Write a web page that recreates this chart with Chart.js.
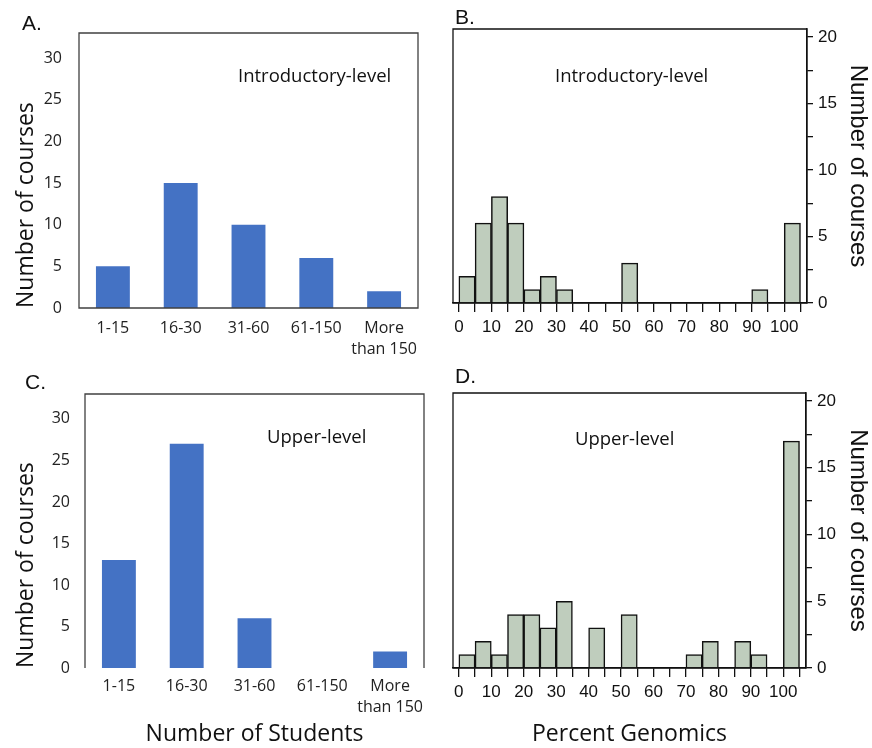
<!DOCTYPE html>
<html>
<head>
<meta charset="utf-8">
<script src="https://cdn.jsdelivr.net/npm/chart.js@4.4.0/dist/chart.umd.min.js"></script>
<style>
	body { margin: 0; width: 872px; height: 748px; background: #fff; position: relative; overflow: hidden; }
	canvas { position: absolute; }
	.tag { position: absolute; font: 21px "Liberation Sans", Arial, sans-serif; line-height: 21px; color: #111; }
	.note { position: absolute; font: 18.5px "Open Sans", sans-serif; line-height: 18.5px; color: #111; white-space: nowrap; }
</style>
</head>
<body>
<canvas id="chart-a" width="436" height="360" style="left:0;top:0;width:436px;height:360px"></canvas>
<canvas id="chart-b" width="432" height="360" style="left:440px;top:0;width:432px;height:360px"></canvas>
<canvas id="chart-c" width="436" height="388" style="left:0;top:360px;width:436px;height:388px"></canvas>
<canvas id="chart-d" width="432" height="388" style="left:440px;top:360px;width:432px;height:388px"></canvas>

<div class="tag" style="left:22px;top:12px">A.</div>
<div class="tag" style="left:455px;top:6px">B.</div>
<div class="tag" style="left:25px;top:371px">C.</div>
<div class="tag" style="left:455px;top:365px">D.</div>

<div class="note" style="left:238px;top:66px">Introductory-level</div>
<div class="note" style="left:555px;top:66px">Introductory-level</div>
<div class="note" style="left:267px;top:427px">Upper-level</div>
<div class="note" style="left:575px;top:429px">Upper-level</div>

<script>
const sizeLabels = ["1-15", "16-30", "31-60", "61-150", ["More", "than 150"]];
const introBySize = [5, 15, 10, 6, 2];
const upperBySize = [13, 27, 6, 0, 2];

// percent genomics histogram, bins of 5 starting at these values
const binWidth = 5;
const binStarts = [0, 5, 10, 15, 20, 25, 30, 35, 40, 45, 50, 55, 60, 65, 70, 75, 80, 85, 90, 95, 100];
const introByGenomics = [2, 6, 8, 6, 1, 2, 1, 0, 0, 0, 3, 0, 0, 0, 0, 0, 0, 0, 1, 0, 6];
const upperByGenomics = [1, 2, 1, 4, 4, 3, 5, 0, 3, 0, 4, 0, 0, 0, 1, 2, 0, 2, 1, 0, 17];

const excelFont = "'Open Sans', sans-serif";
const plotFont = "'Liberation Sans', Arial, sans-serif";

// box around the plot area
const framePlugin = {
	id: "frame",
	afterDatasetsDraw(chart, args, opts) {
		const { ctx, chartArea: a } = chart;
		ctx.save();
		ctx.strokeStyle = opts.color;
		ctx.lineWidth = opts.width;
		ctx.beginPath();
		if (opts.noBottom) {
			ctx.moveTo(a.left, a.bottom);
			ctx.lineTo(a.left, a.top);
			ctx.lineTo(a.right, a.top);
			ctx.lineTo(a.right, a.bottom);
		} else {
			ctx.rect(a.left, a.top, a.right - a.left, a.bottom - a.top);
		}
		ctx.stroke();
		ctx.restore();
	}
};

function sizeChart(id, values, opts) {
	new Chart(document.getElementById(id), {
		type: "bar",
		data: {
			labels: sizeLabels,
			datasets: [{ data: values, backgroundColor: "#4472c4", barPercentage: 0.5, categoryPercentage: 1 }]
		},
		options: {
			responsive: false,
			animation: false,
			layout: { padding: opts.padding },
			plugins: {
				legend: { display: false },
				tooltip: { enabled: false },
				frame: { color: "#404040", width: 1.3, noBottom: opts.noBottom }
			},
			scales: {
				x: {
					grid: { display: false, drawTicks: false },
					border: { display: false },
					ticks: { font: { family: excelFont, size: 16, lineHeight: 1.3 }, color: "#222", padding: opts.xPad, maxRotation: 0, autoSkip: false },
					title: opts.xTitle
						? { display: true, text: opts.xTitle, font: { family: excelFont, size: 23 }, color: "#111", padding: { top: 0, bottom: 0 } }
						: { display: false },
					afterFit: s => { s.height = opts.xHeight; }
				},
				y: {
					min: 0,
					max: 33,
					grid: { display: false, drawTicks: false },
					border: { display: false },
					ticks: { stepSize: 5, includeBounds: false, padding: opts.yPad, font: { family: excelFont, size: 16 }, color: "#222" },
					title: { display: true, text: "Number of courses", align: "start", font: { family: excelFont, size: 23 }, color: "#111", padding: { top: 4, bottom: 0 } },
					afterFit: s => { s.width = opts.yWidth; }
				}
			}
		},
		plugins: [framePlugin]
	});
}

function genomicsChart(id, values, opts) {
	const points = binStarts.map((start, i) => ({ x: start + binWidth / 2, y: values[i] }));
	new Chart(document.getElementById(id), {
		type: "bar",
		data: {
			datasets: [{ data: points, backgroundColor: "#bfcdbd", borderColor: "#111", borderWidth: 1.5, barPercentage: 1, categoryPercentage: 1 }]
		},
		options: {
			responsive: false,
			animation: false,
			layout: { padding: opts.padding },
			plugins: {
				legend: { display: false },
				tooltip: { enabled: false },
				frame: { color: "#111", width: 1.3 }
			},
			scales: {
				x: {
					type: "linear",
					offset: false,
					min: -1.8,
					max: 107,
					grid: { offset: false, drawOnChartArea: false, drawTicks: true, tickLength: 9, color: "#111", lineWidth: 1.3 },
					border: { display: true, color: "#111", width: 1.3 },
					ticks: {
						stepSize: 5,
						includeBounds: false,
						autoSkip: false,
						maxRotation: 0,
						padding: 5,
						font: { family: plotFont, size: 17 },
						color: "#111",
						callback: v => (v % 10 === 0 && v <= 100 ? v : "")
					},
					title: opts.xTitle
						? { display: true, text: opts.xTitle, font: { family: excelFont, size: 23 }, color: "#111", padding: { top: 0, bottom: 0 } }
						: { display: false },
					afterFit: s => { s.height = opts.xHeight; }
				},
				y: {
					position: "right",
					min: 0,
					max: 20.6,
					grid: { drawOnChartArea: false, drawTicks: true, tickLength: 6, color: "#111", lineWidth: 1.3 },
					border: { display: true, color: "#111", width: 1.3 },
					ticks: {
						stepSize: 2.5,
						includeBounds: false,
						autoSkip: false,
						padding: 5,
						font: { family: plotFont, size: 17 },
						color: "#111",
						callback: v => (v % 5 === 0 ? v : "")
					},
					title: { display: true, text: "Number of courses", font: { family: plotFont, size: 24 }, color: "#111", padding: { top: 0, bottom: 0 } },
					afterFit: s => { s.width = opts.yWidth; }
				}
			}
		},
		plugins: [framePlugin]
	});
}

sizeChart("chart-a", introBySize, { padding: { left: 9, top: 33, right: 18, bottom: 0 }, yWidth: 70, xHeight: 52, xPad: 10, yPad: 17 });
sizeChart("chart-c", upperBySize, { padding: { left: 9, top: 34, right: 12, bottom: 0 }, yWidth: 76, xHeight: 80, xPad: 8, yPad: 15, noBottom: true, xTitle: "Number of Students" });
genomicsChart("chart-b", introByGenomics, { padding: { left: 13, top: 29, right: 0, bottom: 0 }, yWidth: 65, xHeight: 57 });
genomicsChart("chart-d", upperByGenomics, { padding: { left: 13, top: 33, right: 0, bottom: 0 }, yWidth: 66, xHeight: 80, xTitle: "Percent Genomics" });
</script>
</body>
</html>
